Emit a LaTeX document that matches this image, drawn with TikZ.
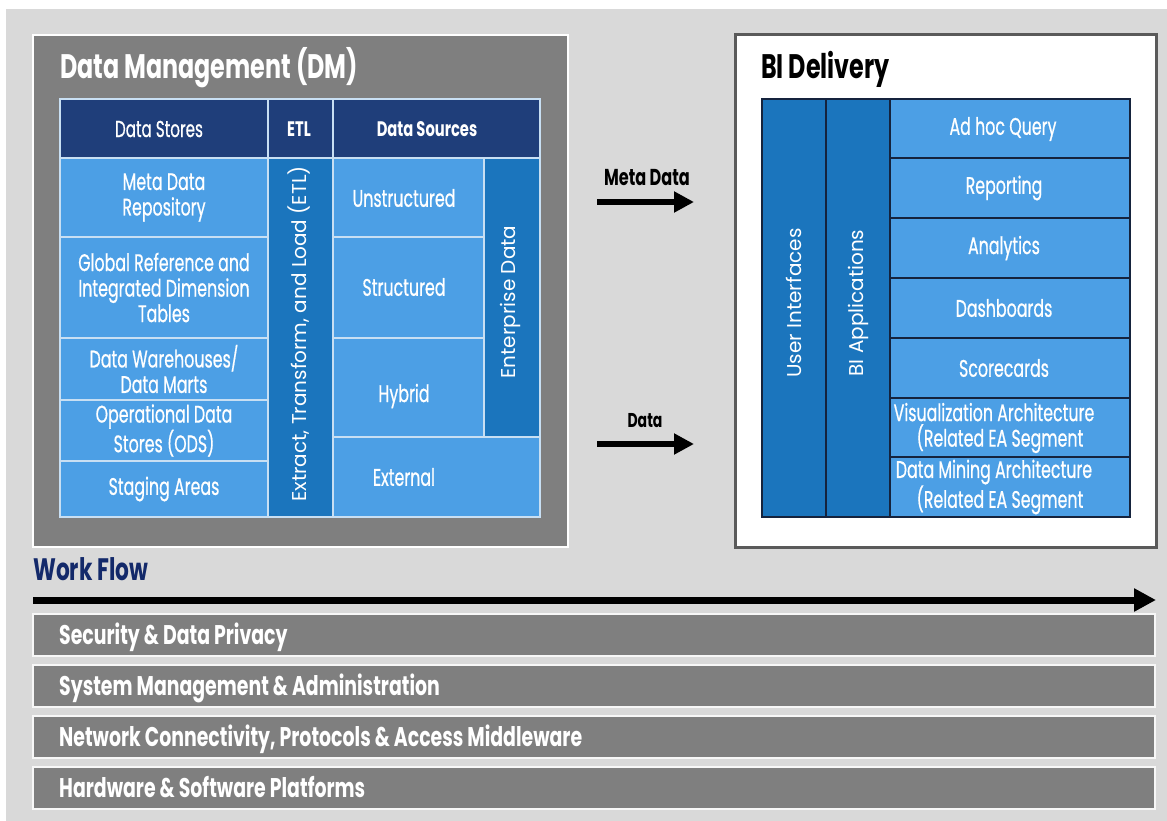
\documentclass[tikz,border=0pt]{standalone}
\usepackage{fontspec}
\setmainfont{Poppins}
\newfontfamily\cnd[FakeStretch=0.7]{Poppins}
\newfontfamily\cndm[FakeStretch=0.66,FakeBold=0.6]{Poppins}
\usetikzlibrary{arrows.meta}

\definecolor{pagebg}{HTML}{D9D9D9}
\definecolor{dmgray}{HTML}{7F7F7F}
\definecolor{navy}{HTML}{1F3E7A}
\definecolor{skyblue}{HTML}{4C9FE5}
\definecolor{midblue}{HTML}{1B75BD}
\definecolor{gridline}{HTML}{C8DFF3}
\definecolor{darkline}{HTML}{15233D}
\definecolor{framegray}{HTML}{5A5A5A}
\definecolor{flownavy}{HTML}{13296A}

% rectangle node spanning (x1,y1)-(x2,y2)
\newcommand\boxcell[7]{%
  \node[#6, minimum width={(#4-#2)*1pt}, minimum height={(#5-#3)*1pt}]
    (#1) at ({(#2+#4)/2},{(#3+#5)/2}) {#7};}

\tikzset{
  base/.style={rectangle, inner sep=0pt, outer sep=0pt, align=center, text=white},
  celltext/.style={font=\fontsize{24}{25.5}\cndm},
  dmcell/.style={base, celltext, fill=skyblue, draw=gridline, line width=1.2pt},
  dmhead/.style={base, fill=navy, draw=gridline, line width=1.2pt},
  dmvert/.style={base, fill=midblue, draw=gridline, line width=1.2pt},
  bicell/.style={base, celltext, fill=skyblue, draw=darkline, line width=1.5pt},
  bivert/.style={base, fill=midblue, draw=darkline, line width=1.5pt},
  label/.style={inner sep=0pt, text=white, align=center},
  vtext/.style={label, rotate=90, font=\fontsize{20}{22}\selectfont},
  headbold/.style={label, font=\fontsize{21}{23}\cnd\bfseries},
  title/.style={anchor=base west, inner sep=0pt, font=\fontsize{34}{36}\cnd\bfseries},
  layerbar/.style={base, fill=dmgray, draw=white!94!gray, line width=1.5pt},
  layertext/.style={anchor=base west, inner sep=0pt, text=white, font=\fontsize{27}{29}\cnd\bfseries},
  flowlabel/.style={anchor=base, inner sep=0pt, text=black, font=\cnd\bfseries},
  flowarrow/.style={line width=6pt, -{Triangle[length=20pt,width=20pt]}},
}

\begin{document}
\begin{tikzpicture}[x=1pt, y=-1pt]
\useasboundingbox (0,0) rectangle (1167,821);
\fill[white] (0,0) rectangle (1167,821);
\fill[pagebg] (6,9) rectangle (1167,821);

% ---------- Data Management ----------
\boxcell{dm}{33}{35}{568}{547}{base, fill=dmgray, draw=white, line width=2pt}{}
\node[title, text=white] (dmtitle) at (60,78.5) {Data Management (DM)};

\boxcell{hstores}{60}{99}{268}{158}{dmhead}{}
\boxcell{hetl}{268}{99}{333}{158}{dmhead}{}
\boxcell{hsrc}{333}{99}{540}{158}{dmhead}{}
\node[label, font=\fontsize{23}{24}\cndm] (hstorestxt) at (159,129) {Data Stores};
\node[headbold] (hetltxt) at (299,129) {ETL};
\node[headbold] (hsrctxt) at (427,129) {Data Sources};

\boxcell{meta}{60}{158}{268}{237}{dmcell}{Meta Data\\Repository}
\boxcell{glob}{60}{237}{268}{338}{dmcell}{Global Reference and\\Integrated Dimension\\Tables}
\boxcell{dw}{60}{338}{268}{400}{dmcell}{Data Warehouses/\\Data Marts}
\boxcell{ods}{60}{400}{268}{461}{dmcell}{Operational Data\\Stores (ODS)}
\boxcell{stage}{60}{461}{268}{517}{dmcell}{Staging Areas}

\boxcell{etl}{268}{158}{333}{517}{dmvert}{}
\node[vtext] (etltxt) at (299,334) {Extract, Transform, and Load (ETL)};

\boxcell{unst}{333}{158}{484}{237}{dmcell}{}
\boxcell{struc}{333}{237}{484}{338}{dmcell}{}
\boxcell{hyb}{333}{338}{484}{437}{dmcell}{}
\boxcell{ext}{333}{437}{540}{517}{dmcell}{}
\boxcell{ent}{484}{158}{540}{437}{dmvert}{}
\node[label, celltext] (unsttxt) at (404,198) {Unstructured};
\node[label, celltext] (structxt) at (404,287) {Structured};
\node[label, celltext] (hybtxt) at (404,396) {Hybrid};
\node[label, celltext] (exttxt) at (404,477) {External};
\node[vtext] (enttxt) at (510,302) {Enterprise Data};

% ---------- flows between the blocks ----------
\coordinate (mdA) at (597,202);
\coordinate (mdB) at (694,202);
\draw[flowarrow] (mdA) -- (mdB);
\node[flowlabel, font=\fontsize{23}{25}\cnd\bfseries] (mdlabel) at (647,185.5) {Meta Data};

\coordinate (dA) at (597,444);
\coordinate (dB) at (694,444);
\draw[flowarrow] (dA) -- (dB);
\node[flowlabel, font=\fontsize{20}{22}\cnd\bfseries] (dlabel) at (645,427.5) {Data};

% ---------- BI Delivery ----------
\boxcell{bi}{735}{35}{1156}{547}{base, fill=white, draw=framegray, line width=3pt}{}
\node[title, text=black] (bititle) at (761,78.5) {BI Delivery};

\boxcell{ui}{762}{99}{826}{517}{bivert}{}
\boxcell{bia}{826}{99}{890}{517}{bivert}{}
\node[vtext] (uitxt) at (794,303) {User Interfaces};
\node[vtext] (biatxt) at (858,303) {BI Applications};

\boxcell{adhoc}{890}{99}{1130}{158}{bicell}{}
\boxcell{rep}{890}{158}{1130}{218}{bicell}{}
\boxcell{ana}{890}{218}{1130}{278}{bicell}{}
\boxcell{dash}{890}{278}{1130}{338}{bicell}{}
\boxcell{score}{890}{338}{1130}{398}{bicell}{}
\boxcell{vis}{890}{398}{1130}{457}{bicell}{}
\boxcell{mine}{890}{457}{1130}{517}{bicell}{}
\node[label, celltext] (adhoctxt) at (1003,129) {Ad hoc Query};
\node[label, celltext] (reptxt) at (1004,188) {Reporting};
\node[label, celltext] (anatxt) at (1004,248) {Analytics};
\node[label, celltext] (dashtxt) at (1004,308) {Dashboards};
\node[label, celltext] (scoretxt) at (1004,368) {Scorecards};
\node[label, celltext] (vistxt) at (994,428) {Visualization Architecture\\\hspace*{12pt}(Related EA Segment};
\node[label, celltext] (minetxt) at (994,487) {Data Mining Architecture\\\hspace*{12pt}(Related EA Segment};

% ---------- work flow and layers ----------
\node[anchor=base west, inner sep=0pt, text=flownavy, font=\fontsize{31}{33}\cnd\bfseries] (wftitle) at (33,580) {Work Flow};
\coordinate (wfA) at (33,600);
\coordinate (wfB) at (1156,600);
\draw[line width=7pt, -{Triangle[length=22pt,width=22pt]}] (wfA) -- (wfB);

\boxcell{lay1}{33}{614}{1155}{656}{layerbar}{}
\boxcell{lay2}{33}{665}{1155}{707}{layerbar}{}
\boxcell{lay3}{33}{716}{1155}{758}{layerbar}{}
\boxcell{lay4}{33}{767}{1155}{809}{layerbar}{}
\node[layertext] (lay1txt) at (59,644) {Security \& Data Privacy};
\node[layertext] (lay2txt) at (59,695) {System Management \& Administration};
\node[layertext] (lay3txt) at (59,746) {Network Connectivity, Protocols \& Access Middleware};
\node[layertext] (lay4txt) at (59,797) {Hardware \& Software Platforms};
\end{tikzpicture}
\end{document}
